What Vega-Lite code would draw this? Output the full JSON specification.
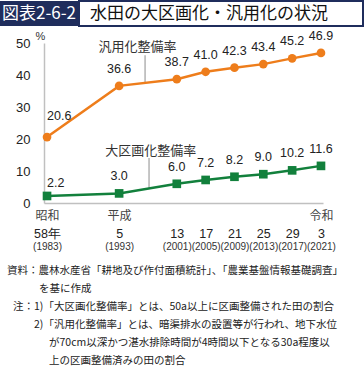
{
  "$schema": "https://vega.github.io/schema/vega-lite/v6.json",
  "padding": 0,
  "spacing": 2,
  "config": {"view": {"stroke": null}, "font": "Noto Sans CJK JP"},
  "datasets": {
    "rates": [
      {"year": 1983, "series": "汎用化整備率", "value": 20.6},
      {"year": 1993, "series": "汎用化整備率", "value": 36.6},
      {"year": 2001, "series": "汎用化整備率", "value": 38.7},
      {"year": 2005, "series": "汎用化整備率", "value": 41.0},
      {"year": 2009, "series": "汎用化整備率", "value": 42.3},
      {"year": 2013, "series": "汎用化整備率", "value": 43.4},
      {"year": 2017, "series": "汎用化整備率", "value": 45.2},
      {"year": 2021, "series": "汎用化整備率", "value": 46.9},
      {"year": 1983, "series": "大区画化整備率", "value": 2.2},
      {"year": 1993, "series": "大区画化整備率", "value": 3.0},
      {"year": 2001, "series": "大区画化整備率", "value": 6.0},
      {"year": 2005, "series": "大区画化整備率", "value": 7.2},
      {"year": 2009, "series": "大区画化整備率", "value": 8.2},
      {"year": 2013, "series": "大区画化整備率", "value": 9.0},
      {"year": 2017, "series": "大区画化整備率", "value": 10.2},
      {"year": 2021, "series": "大区画化整備率", "value": 11.6}
    ],
    "ann": [
      {"series": "汎用化整備率", "labelYear": 1995.55, "labelValue": 48.8, "lineYear": 1996.6, "top": 46.2, "bottom": 37.5},
      {"series": "大区画化整備率", "labelYear": 1997.4, "labelValue": 16.3, "lineYear": 1997.15, "top": 14.1, "bottom": 4.6}
    ],
    "notes": [
      {"line": 1, "text": "資料：農林水産省「耕地及び作付面積統計」、「農業基盤情報基礎調査」"},
      {"line": 2, "text": "を基に作成"},
      {"line": 3, "text": "注：1)「大区画化整備率」とは、50a以上に区画整備された田の割合"},
      {"line": 4, "text": "2)「汎用化整備率」とは、暗渠排水の設置等が行われ、地下水位"},
      {"line": 5, "text": "が70cm以深かつ湛水排除時間が4時間以下となる30a程度以"},
      {"line": 6, "text": "上の区画整備済みの田の割合"}
    ]
  },
  "vconcat": [
    {
      "hconcat": [
        {
          "width": 78, "height": 25,
          "view": {"fill": "#1f2d5c", "stroke": null},
          "data": {"values": [{"t": "図表2-6-2"}]},
          "mark": {"type": "text", "color": "#ffffff", "fontSize": 17, "font": "Noto Sans CJK JP"},
          "encoding": {"text": {"field": "t"}}
        },
        {
          "width": 284, "height": 25,
          "view": {"fill": "#ffffff", "stroke": "#1f2d5c", "strokeWidth": 2},
          "data": {"values": [{"t": "水田の大区画化・汎用化の状況"}]},
          "mark": {"type": "text", "color": "#111111", "fontSize": 17, "dx": -12, "font": "Noto Sans CJK JP"},
          "encoding": {"text": {"field": "t"}}
        }
      ],
      "spacing": 0
    },
    {
      "hconcat": [
        {
          "width": 44, "height": 160,
          "data": {"values": [{"t": ""}]},
          "mark": {"type": "text"},
          "encoding": {"text": {"field": "t"}}
        },
        {
          "width": 279, "height": 160,
          "data": {"name": "rates"},
          "resolve": {"axis": {"x": "independent"}},
          "layer": [
            {
              "data": {"name": "ann"},
              "mark": {"type": "rule", "color": "#b3b3b3", "strokeWidth": 1.5},
              "encoding": {
                "x": {"field": "lineYear", "type": "quantitative", "scale": {"domain": [1982.58, 2021.28], "nice": false, "zero": false}, "axis": null},
                "y": {"field": "top", "type": "quantitative", "scale": {"domain": [0, 50], "nice": false},
                  "axis": {"values": [0, 10, 20, 30, 40, 50], "title": "%", "titleAngle": 0, "titleX": -4, "titleY": -7, "titleAlign": "center", "titleBaseline": "middle", "titleFontSize": 11, "titleFontWeight": "normal", "titleColor": "#333333", "titleFont": "Liberation Sans", "ticks": false, "domainColor": "#c0c0c0", "domainWidth": 1.5, "labelFontSize": 13, "labelFont": "Liberation Sans", "labelColor": "#222222", "labelPadding": 14, "grid": false}},
                "y2": {"field": "bottom"}
              }
            },
            {
              "mark": {"type": "line", "strokeWidth": 2.5},
              "encoding": {
                "x": {"field": "year", "type": "quantitative", "scale": {"domain": [1982.58, 2021.28], "nice": false, "zero": false},
                  "axis": {"orient": "bottom", "values": [1983, 1993, 2021], "labelExpr": "datum.value == 1983 ? '昭和' : datum.value == 1993 ? '平成' : '令和'", "title": null, "ticks": false, "domain": true, "domainColor": "#c0c0c0", "domainWidth": 1.5, "labelFontSize": 12, "labelColor": "#444444", "labelPadding": 7, "labelFont": "Noto Sans CJK JP", "grid": false, "labelOverlap": false, "labelFlush": false}},
                "y": {"field": "value", "type": "quantitative", "scale": {"domain": [0, 50], "nice": false},
                  "axis": {"values": [0, 10, 20, 30, 40, 50], "title": "%", "titleAngle": 0, "titleX": -4, "titleY": -7, "titleAlign": "center", "titleBaseline": "middle", "titleFontSize": 11, "titleFontWeight": "normal", "titleColor": "#333333", "titleFont": "Liberation Sans", "ticks": false, "domainColor": "#c0c0c0", "domainWidth": 1.5, "labelFontSize": 13, "labelFont": "Liberation Sans", "labelColor": "#222222", "labelPadding": 14, "grid": false}},
                "color": {"field": "series", "type": "nominal", "scale": {"domain": ["汎用化整備率", "大区画化整備率"], "range": ["#ee7d1b", "#12803c"]}, "legend": null}
              }
            },
            {
              "mark": {"type": "point", "filled": true, "opacity": 1, "size": 75},
              "encoding": {
                "x": {"field": "year", "type": "quantitative", "scale": {"domain": [1982.58, 2021.28], "nice": false, "zero": false},
                  "axis": {"orient": "bottom", "values": [1983, 1993, 2001, 2005, 2009, 2013, 2017, 2021], "labelExpr": "datum.value < 1989 ? (datum.value - 1925) + '年' : datum.value < 2019 ? '' + (datum.value - 1988) : '' + (datum.value - 2018)", "title": null, "domain": false, "ticks": false, "grid": false, "labelPadding": 24.5, "labelFontSize": 12.5, "labelFont": "Liberation Sans", "labelColor": "#222222", "labelOverlap": false, "labelFlush": false}},
                "y": {"field": "value", "type": "quantitative", "scale": {"domain": [0, 50], "nice": false},
                  "axis": {"values": [0, 10, 20, 30, 40, 50], "title": "%", "titleAngle": 0, "titleX": -4, "titleY": -7, "titleAlign": "center", "titleBaseline": "middle", "titleFontSize": 11, "titleFontWeight": "normal", "titleColor": "#333333", "titleFont": "Liberation Sans", "ticks": false, "domainColor": "#c0c0c0", "domainWidth": 1.5, "labelFontSize": 13, "labelFont": "Liberation Sans", "labelColor": "#222222", "labelPadding": 14, "grid": false}},
                "color": {"field": "series", "type": "nominal", "legend": null},
                "shape": {"field": "series", "type": "nominal", "scale": {"domain": ["汎用化整備率", "大区画化整備率"], "range": ["circle", "square"]}, "legend": null}
              }
            },
            {
              "transform": [{"filter": "datum.year != 1983"}],
              "mark": {"type": "text", "dy": -17, "fontSize": 12.5, "font": "Liberation Sans", "color": "#222222"},
              "encoding": {
                "x": {"field": "year", "type": "quantitative", "scale": {"domain": [1982.58, 2021.28], "nice": false, "zero": false},
                  "axis": {"orient": "bottom", "values": [1983, 1993, 2001, 2005, 2009, 2013, 2017, 2021], "labelExpr": "'(' + datum.value + ')'", "title": null, "domain": false, "ticks": false, "grid": false, "labelPadding": 38, "labelFontSize": 10, "labelFont": "Liberation Sans", "labelColor": "#333333", "labelOverlap": false, "labelFlush": false}},
                "y": {"field": "value", "type": "quantitative", "scale": {"domain": [0, 50], "nice": false},
                  "axis": {"values": [0, 10, 20, 30, 40, 50], "title": "%", "titleAngle": 0, "titleX": -4, "titleY": -7, "titleAlign": "center", "titleBaseline": "middle", "titleFontSize": 11, "titleFontWeight": "normal", "titleColor": "#333333", "titleFont": "Liberation Sans", "ticks": false, "domainColor": "#c0c0c0", "domainWidth": 1.5, "labelFontSize": 13, "labelFont": "Liberation Sans", "labelColor": "#222222", "labelPadding": 14, "grid": false}},
                "text": {"field": "value", "type": "quantitative", "format": ".1f"}
              }
            },
            {
              "transform": [{"filter": "datum.year == 1983 && datum.series == '汎用化整備率'"}],
              "mark": {"type": "text", "align": "left", "dy": -21, "fontSize": 12.5, "font": "Liberation Sans", "color": "#222222"},
              "encoding": {
                "x": {"field": "year", "type": "quantitative", "scale": {"domain": [1982.58, 2021.28], "nice": false, "zero": false}, "axis": null},
                "y": {"field": "value", "type": "quantitative", "scale": {"domain": [0, 50], "nice": false},
                  "axis": {"values": [0, 10, 20, 30, 40, 50], "title": "%", "titleAngle": 0, "titleX": -4, "titleY": -7, "titleAlign": "center", "titleBaseline": "middle", "titleFontSize": 11, "titleFontWeight": "normal", "titleColor": "#333333", "titleFont": "Liberation Sans", "ticks": false, "domainColor": "#c0c0c0", "domainWidth": 1.5, "labelFontSize": 13, "labelFont": "Liberation Sans", "labelColor": "#222222", "labelPadding": 14, "grid": false}},
                "text": {"field": "value", "type": "quantitative", "format": ".1f"}
              }
            },
            {
              "transform": [{"filter": "datum.year == 1983 && datum.series == '大区画化整備率'"}],
              "mark": {"type": "text", "align": "left", "dy": -12.5, "fontSize": 12.5, "font": "Liberation Sans", "color": "#222222"},
              "encoding": {
                "x": {"field": "year", "type": "quantitative", "scale": {"domain": [1982.58, 2021.28], "nice": false, "zero": false}, "axis": null},
                "y": {"field": "value", "type": "quantitative", "scale": {"domain": [0, 50], "nice": false},
                  "axis": {"values": [0, 10, 20, 30, 40, 50], "title": "%", "titleAngle": 0, "titleX": -4, "titleY": -7, "titleAlign": "center", "titleBaseline": "middle", "titleFontSize": 11, "titleFontWeight": "normal", "titleColor": "#333333", "titleFont": "Liberation Sans", "ticks": false, "domainColor": "#c0c0c0", "domainWidth": 1.5, "labelFontSize": 13, "labelFont": "Liberation Sans", "labelColor": "#222222", "labelPadding": 14, "grid": false}},
                "text": {"field": "value", "type": "quantitative", "format": ".1f"}
              }
            },
            {
              "data": {"name": "ann"},
              "mark": {"type": "text", "fontSize": 13, "color": "#333333", "font": "Noto Sans CJK JP"},
              "encoding": {
                "x": {"field": "labelYear", "type": "quantitative", "scale": {"domain": [1982.58, 2021.28], "nice": false, "zero": false}, "axis": null},
                "y": {"field": "labelValue", "type": "quantitative", "scale": {"domain": [0, 50], "nice": false},
                  "axis": {"values": [0, 10, 20, 30, 40, 50], "title": "%", "titleAngle": 0, "titleX": -4, "titleY": -7, "titleAlign": "center", "titleBaseline": "middle", "titleFontSize": 11, "titleFontWeight": "normal", "titleColor": "#333333", "titleFont": "Liberation Sans", "ticks": false, "domainColor": "#c0c0c0", "domainWidth": 1.5, "labelFontSize": 13, "labelFont": "Liberation Sans", "labelColor": "#222222", "labelPadding": 14, "grid": false}},
                "text": {"field": "series"}
              }
            }
          ]
        }
      ],
      "spacing": 0,
      "bounds": "flush"
    },
    {
      "width": 364, "height": 114,
      "data": {"name": "notes"},
      "encoding": {
        "x": {"datum": 0, "type": "quantitative", "scale": {"domain": [0, 1]}, "axis": null},
        "y": {"field": "line", "type": "quantitative", "scale": {"domain": [0, 6.333], "nice": false, "zero": false, "reverse": true}, "axis": null},
        "text": {"field": "text"}
      },
      "layer": [
        {"transform": [{"filter": "datum.line == 1"}], "mark": {"type": "text", "align": "left", "baseline": "middle", "fontSize": 10.5, "dx": 7, "color": "#222222", "font": "Noto Sans CJK JP"}},
        {"transform": [{"filter": "datum.line == 2"}], "mark": {"type": "text", "align": "left", "baseline": "middle", "fontSize": 10.5, "dx": 39, "color": "#222222", "font": "Noto Sans CJK JP"}},
        {"transform": [{"filter": "datum.line == 3"}], "mark": {"type": "text", "align": "left", "baseline": "middle", "fontSize": 10.5, "dx": 13, "color": "#222222", "font": "Noto Sans CJK JP"}},
        {"transform": [{"filter": "datum.line == 4"}], "mark": {"type": "text", "align": "left", "baseline": "middle", "fontSize": 10.5, "dx": 34, "color": "#222222", "font": "Noto Sans CJK JP"}},
        {"transform": [{"filter": "datum.line >= 5"}], "mark": {"type": "text", "align": "left", "baseline": "middle", "fontSize": 10.5, "dx": 49, "color": "#222222", "font": "Noto Sans CJK JP"}}
      ]
    }
  ]
}
